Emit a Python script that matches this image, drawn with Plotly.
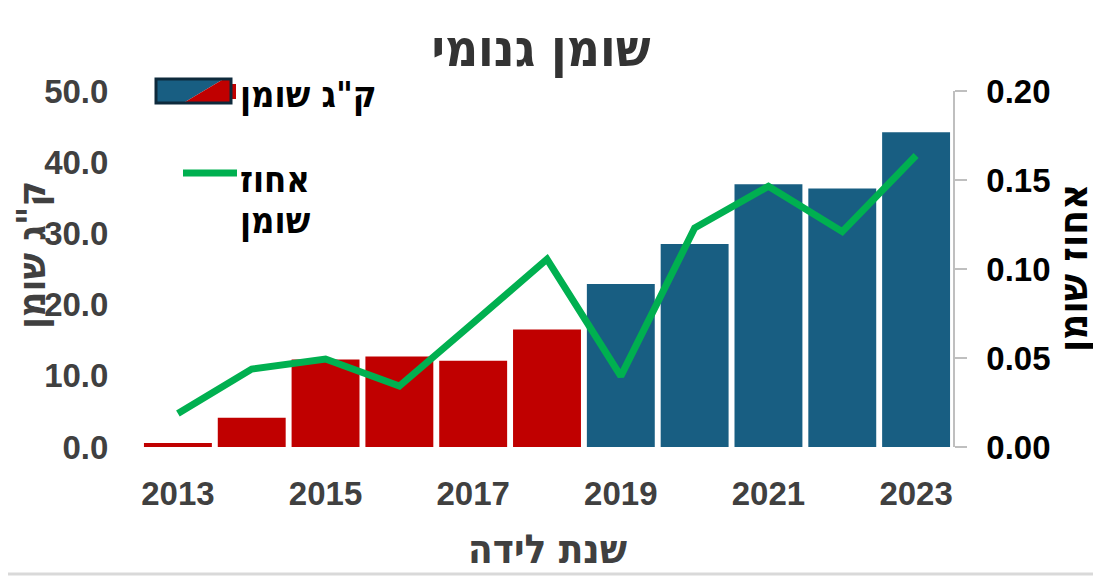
import plotly.graph_objects as go

years = [2013, 2014, 2015, 2016, 2017, 2018, 2019, 2020, 2021, 2022, 2023]
fat_kg = [0.55, 4.1, 12.3, 12.7, 12.1, 16.5, 22.9, 28.5, 36.9, 36.3, 44.2]
fat_pct = [0.0188, 0.0438, 0.0494, 0.0342, 0.0697, 0.1055, 0.0398, 0.1230, 0.1465, 0.1210, 0.1638]
bar_colors = ["#C00000"] * 6 + ["#185E82"] * 5
x_ticks = [2013, 2015, 2017, 2019, 2021, 2023]

title_text = "שומן גנומי"
x_title = "שנת לידה"
y_title = 'ק"ג שומן'
y2_title = "אחוז שומן"
legend_bar = 'ק"ג שומן'
legend_line_1 = "אחוז"
legend_line_2 = "שומן"

W, H = 1101, 576
OFF = 8  # default page body margin
L, R, T, B = 141, 148, 91, 129
PW, PH = W - L - R, H - T - B

def px(x):
    return (x - L) / PW

def py(y):
    return (H - B - y) / PH

NUM_FONT = "Liberation Sans, DejaVu Sans, sans-serif"
HEB_FONT = "DejaVu Sans Condensed, DejaVu Sans, sans-serif"
GRAY = "#404040"

fig = go.Figure()
fig.add_trace(go.Bar(x=years, y=fat_kg, marker=dict(color=bar_colors, line=dict(width=0)),
                     yaxis="y", showlegend=False))
fig.add_trace(go.Scatter(x=years, y=fat_pct, mode="lines", line=dict(color="#00B050", width=7),
                         yaxis="y2", showlegend=False))

shapes = []
# legend swatch (bars)
shapes.append(dict(type="rect", xref="paper", yref="paper", x0=px(231), x1=px(236), y0=py(99), y1=py(84),
                   fillcolor="#C00000", line=dict(width=0)))
shapes.append(dict(type="path", xref="paper", yref="paper",
                   path=f"M {px(157)} {py(80)} L {px(222)} {py(80)} L {px(185)} {py(102)} L {px(157)} {py(102)} Z",
                   fillcolor="#185E82", line=dict(width=0)))
shapes.append(dict(type="path", xref="paper", yref="paper",
                   path=f"M {px(222)} {py(80)} L {px(230)} {py(80)} L {px(230)} {py(102)} L {px(185)} {py(102)} Z",
                   fillcolor="#C00000", line=dict(width=0)))
shapes.append(dict(type="rect", xref="paper", yref="paper", x0=px(156), x1=px(231), y0=py(103), y1=py(79),
                   fillcolor="rgba(0,0,0,0)", line=dict(color="#0E2A3C", width=3)))
# legend line
shapes.append(dict(type="line", xref="paper", yref="paper", x0=px(183), x1=px(237), y0=py(173), y1=py(173),
                   line=dict(color="#00B050", width=7)))
# outer frame (right and bottom)
shapes.append(dict(type="line", xref="paper", yref="paper", x0=px(1096), x1=px(1096), y0=py(0), y1=py(574),
                   line=dict(color="#D9D9D9", width=3)))
shapes.append(dict(type="line", xref="paper", yref="paper", x0=px(0), x1=px(1096), y0=py(574), y1=py(574),
                   line=dict(color="#D9D9D9", width=3)))

def heb(size, color):
    return dict(family=HEB_FONT, size=size, color=color, weight="bold")

annotations = [
    dict(text=legend_bar, xref="paper", yref="paper", x=px(238), y=py(95), xanchor="left",
         yanchor="middle", showarrow=False, font=heb(36, "#000000")),
    dict(text=legend_line_1, xref="paper", yref="paper", x=px(238), y=py(179), xanchor="left",
         yanchor="middle", showarrow=False, font=heb(36, "#000000")),
    dict(text=legend_line_2, xref="paper", yref="paper", x=px(238), y=py(221), xanchor="left",
         yanchor="middle", showarrow=False, font=heb(36, "#000000")),
    dict(text=y_title, xref="paper", yref="paper", x=px(31), y=py(255), xanchor="center",
         yanchor="middle", textangle=-90, showarrow=False, font=heb(39, GRAY)),
    dict(text=y2_title, xref="paper", yref="paper", x=px(1073), y=py(268), xanchor="center",
         yanchor="middle", textangle=-90, showarrow=False, font=heb(40, "#000000")),
    dict(text=x_title, xref="paper", yref="paper", x=px(547), y=py(549), xanchor="center",
         yanchor="middle", showarrow=False, font=heb(40, GRAY)),
]

fig.update_layout(
    width=W - OFF, height=H - OFF,
    margin=dict(l=L - OFF, r=R, t=T - OFF, b=B),
    paper_bgcolor="white", plot_bgcolor="white",
    title=dict(text=title_text, x=(541 - OFF) / (W - OFF), xanchor="center",
               y=1 - (48 - OFF) / (H - OFF), yanchor="middle", yref="container",
               font=heb(51, "#333333")),
    bargap=0.08,
    xaxis=dict(range=[2012.5, 2023.5], tickvals=x_ticks, ticks="outside", ticklen=17,
               tickcolor="rgba(0,0,0,0)", showline=False, showgrid=False, zeroline=False,
               tickfont=dict(family=NUM_FONT, size=33, color=GRAY, weight="bold")),
    yaxis=dict(range=[0, 50], dtick=10, tickformat=".1f", ticks="outside", ticklen=25,
               tickcolor="rgba(0,0,0,0)", showline=False, showgrid=False, zeroline=False,
               tickfont=dict(family=NUM_FONT, size=33, color=GRAY, weight="bold")),
    yaxis2=dict(range=[0, 0.2], dtick=0.05, tickformat=".2f", overlaying="y", side="right",
                showline=True, linecolor="#BFBFBF", linewidth=1.5, ticks="outside", ticklen=12,
                tickcolor="#BFBFBF", tickwidth=1.5, showgrid=False, zeroline=False,
                ticklabelstandoff=13,
                tickfont=dict(family=NUM_FONT, size=33, color="#000000", weight="bold")),
    shapes=shapes,
    annotations=annotations,
)

fig.write_html("out.html")
